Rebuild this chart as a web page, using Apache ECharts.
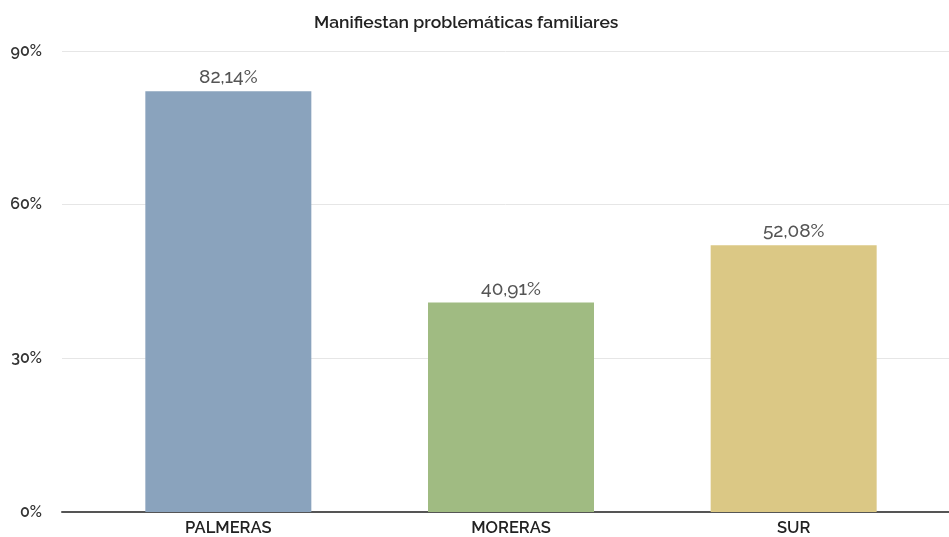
<!DOCTYPE html>
<html><head><meta charset="utf-8">
<script src="https://cdn.jsdelivr.net/npm/echarts@6/dist/echarts.min.js"></script>
<style>html,body{margin:0;padding:0;background:#fff}#c{width:949px;height:537px}</style>
</head><body><div id="c"></div>
<script>
const categories = ['PALMERAS', 'MORERAS', 'SUR'];
const values = [82.14, 40.91, 52.08];
const labels = ['82,14%', '40,91%', '52,08%'];
const colors = ['#8aa3bd', '#a0bb82', '#dbc885'];
const yTicks = [0, 30, 60, 90];

const font = 'Raleway, Lato, sans-serif';
const chart = echarts.init(document.getElementById('c'));
chart.setOption({
  animation: false,
  title: { text: 'Manifiestan problemáticas familiares', left: 309, top: 9,
    textStyle: { fontFamily: font, fontSize: 17.5, fontWeight: 600, color: '#222' } },
  grid: [
    { left: 62, right: 0, top: 51, bottom: 25 },
    { left: 87, right: 14, top: 51, bottom: 25 }
  ],
  xAxis: [
    { gridIndex: 0, type: 'category', data: categories, axisLine: { lineStyle: { color: '#555', width: 2 } },
      axisTick: { show: false }, axisLabel: { show: false } },
    { gridIndex: 1, type: 'category', data: categories, axisLine: { show: false },
      axisTick: { show: false },
      axisLabel: { fontFamily: font, fontSize: 16.5, fontWeight: 600, color: '#222', margin: 8 } }
  ],
  yAxis: [
    { gridIndex: 0, type: 'value', min: 0, max: 90, interval: 30,
      axisLine: { show: false }, axisTick: { show: false },
      splitLine: { lineStyle: { color: '#e6e6e6' } },
      axisLabel: { fontFamily: font, fontSize: 16, fontWeight: 600, color: '#333', margin: 20,
        formatter: v => yTicks.includes(v) ? v + '%' : '' } },
    { gridIndex: 1, type: 'value', min: 0, max: 90, interval: 30, show: false }
  ],
  series: [{
    type: 'bar', xAxisIndex: 1, yAxisIndex: 1, barWidth: 166,
    data: values.map((v, i) => ({ value: v, itemStyle: { color: colors[i] } })),
    label: { show: true, position: 'top', distance: 4, fontFamily: font, fontSize: 19, fontWeight: 500, color: '#555',
      formatter: p => labels[p.dataIndex] }
  }]
});
</script></body></html>
